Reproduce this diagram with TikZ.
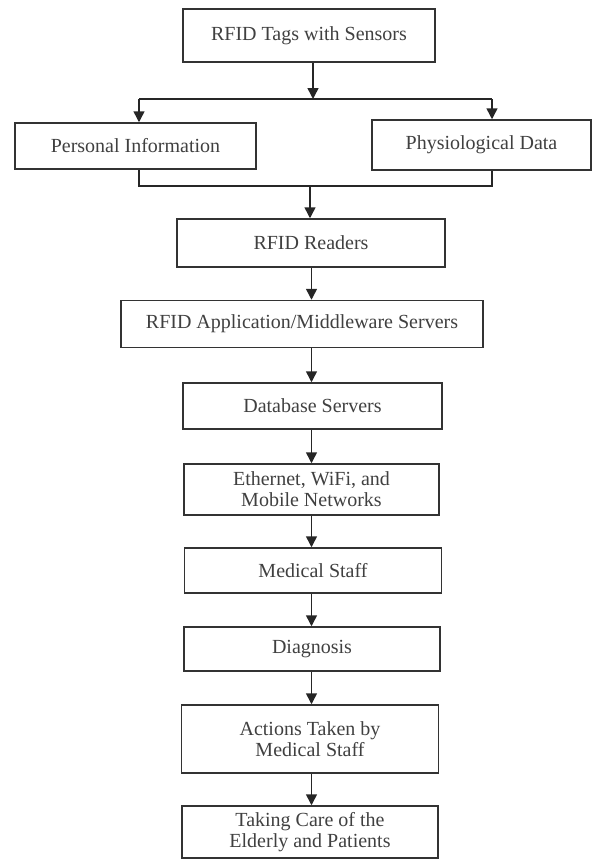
\documentclass[tikz,border=0pt]{standalone}
\usepackage{fontspec}
\setmainfont{Liberation Serif}
\usepackage{tikz}
\usetikzlibrary{arrows.meta}

\begin{document}
\begin{tikzpicture}[x=1pt,y=-1pt]
     \tikzstyle{block}=[draw=black!80,line width=1.5pt,inner sep=0pt,align=center,
                        text=black!75,font=\fontsize{20}{21}\selectfont]
     \tikzstyle{edge} = [draw=black!85,line width=1.5pt,-{Triangle[length=11pt,width=11pt]}]
     \tikzstyle{wire} = [draw=black!85,line width=1.5pt]
     \useasboundingbox (0,0) rectangle (593,859);

     \node[block,minimum width=252pt,minimum height=53pt] (tags) at (309,35.5) {RFID Tags with Sensors};
     \node[block,minimum width=241pt,minimum height=46pt] (personal) at (135.5,146) {Personal Information};
     \node[block,minimum width=219pt,minimum height=50pt] (physio) at (481.5,145) {Physiological Data};
     \node[block,minimum width=268pt,minimum height=48pt] (readers) at (311,243) {RFID Readers};
     \node[block,minimum width=362pt,minimum height=47pt] (app) at (302,324) {RFID Application/Middleware Servers};
     \node[block,minimum width=259pt,minimum height=46pt] (db) at (312.5,406) {Database Servers};
     \node[block,minimum width=255pt,minimum height=51pt] (net) at (311.5,489.5) {Ethernet, WiFi, and\\Mobile Networks};
     \node[block,minimum width=257pt,minimum height=45pt] (staff) at (313,570.5) {Medical Staff};
     \node[block,minimum width=256pt,minimum height=44pt] (diag) at (312,649) {Diagnosis};
     \node[block,minimum width=257pt,minimum height=68pt] (actions) at (310,739) {Actions Taken by\\Medical Staff};
     \node[block,minimum width=256pt,minimum height=52pt] (care) at (310,832) {Taking Care of the\\Elderly and Patients};

     % split and join points
     \coordinate (split) at (313,99);
     \coordinate (splitL) at (139,99);
     \coordinate (splitR) at (492,99);
     \coordinate (joinL) at (139,186);
     \coordinate (joinR) at (492,186);
     \coordinate (join) at (310,186);
     \coordinate (spine) at (311.5,0);

     \draw[edge] (tags.south -| split) -- (split);
     \draw[wire] (splitL) -- (splitR);
     \draw[edge] (splitL) -- (personal.north -| splitL);
     \draw[edge] (splitR) -- (physio.north -| splitR);
     \draw[wire] (personal.south -| joinL) -- (joinL) -- (joinR) -- (physio.south -| joinR);
     \draw[edge] (join) -- (readers.north -| join);

     \draw[edge] (readers.south -| spine) -- (app.north -| spine);
     \draw[edge] (app.south -| spine) -- (db.north -| spine);
     \draw[edge] (db.south -| spine) -- (net.north -| spine);
     \draw[edge] (net.south -| spine) -- (staff.north -| spine);
     \draw[edge] (staff.south -| spine) -- (diag.north -| spine);
     \draw[edge] (diag.south -| spine) -- (actions.north -| spine);
     \draw[edge] (actions.south -| spine) -- (care.north -| spine);
\end{tikzpicture}
\end{document}
